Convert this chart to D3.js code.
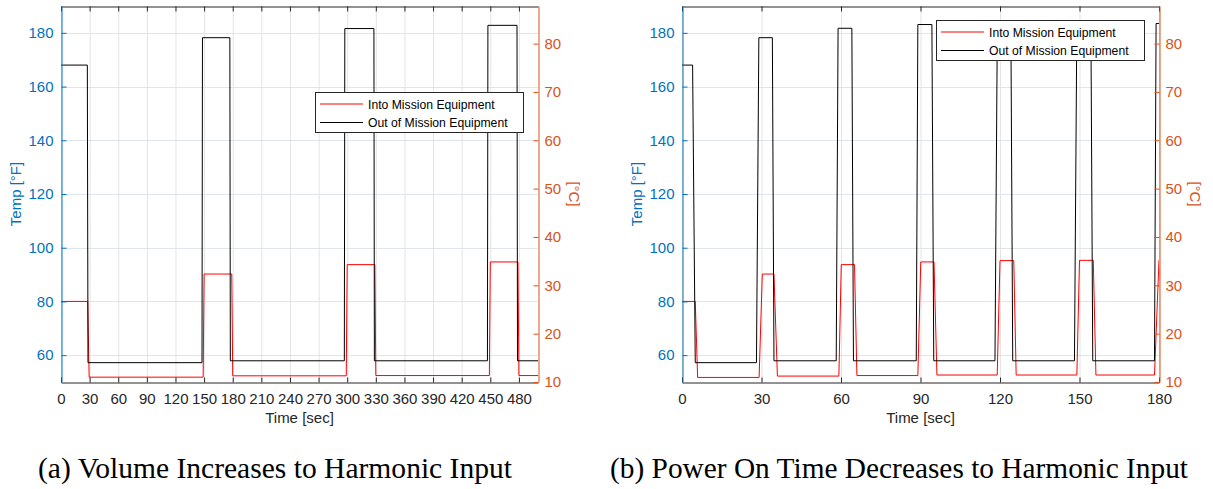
<!DOCTYPE html>
<html>
<head>
<meta charset="utf-8">
<script src="https://cdn.jsdelivr.net/npm/d3@7"></script>
<style>
  body { margin: 0; background: #fff; }
  svg { display: block; }
</style>
</head>
<body>
<svg id="root" width="1213" height="489"></svg>
<script>
// ---- data ----
// panel (a): volume increases
const aTicks = d3.range(0, 481, 30);
const aIntoT = [0, 28, 29.5, 149, 150, 179, 180, 299, 300, 329, 330, 449, 450, 479, 480, 500];
const aIntoF = [80, 80, 51.8, 51.8, 90.2, 90.2, 52.3, 52.3, 93.7, 93.7, 52.4, 52.4, 94.7, 94.7, 52.4, 52.4];
const aOutT = [0, 27.6, 28.3, 147.8, 148.3, 177, 177.5, 297, 297.5, 328, 328.5, 447, 447.5, 478, 478.5, 500];
const aOutF = [168, 168, 57.2, 57.2, 178.2, 178.2, 57.9, 57.9, 181.6, 181.6, 57.9, 57.9, 182.8, 182.8, 57.9, 57.9];

// panel (b): power on time decreases
const bTicks = d3.range(0, 181, 30);
const bIntoT = [0, 5, 5.9, 29.1, 30.3, 34.7, 36, 59.2, 60.1, 65.1, 66, 89, 90.1, 95.1, 96.2, 118.95, 120, 125.2, 126.1, 149, 150, 155.2, 156.2, 178.3, 180];
const bIntoF = [80, 80, 51.7, 51.7, 90.2, 90.2, 52.2, 52.2, 93.7, 93.7, 52.4, 52.4, 94.7, 94.7, 52.6, 52.6, 95.2, 95.2, 52.6, 52.6, 95.3, 95.3, 52.6, 52.6, 95.4];
const bOutT = [0, 4, 5, 28.1, 29, 34.1, 34.7, 58.2, 58.9, 64.1, 64.7, 88.4, 89, 94.3, 95, 118.1, 119, 124.1, 124.8, 148.1, 149, 154.3, 155, 178.3, 178.9, 180];
const bOutF = [168, 168, 57.2, 57.2, 178.2, 178.2, 57.9, 57.9, 181.7, 181.7, 57.9, 57.9, 183.1, 183.1, 57.9, 57.9, 183.3, 183.3, 57.9, 57.9, 183.5, 183.5, 57.9, 57.9, 183.5, 183.5];

const fTicks = [60, 80, 100, 120, 140, 160, 180];
const cTicks = [10, 20, 30, 40, 50, 60, 70, 80];
const seriesNames = ["Into Mission Equipment", "Out of Mission Equipment"];
const captions = ["(a) Volume Increases to Harmonic Input", "(b) Power On Time Decreases to Harmonic Input"];

const BLUE = "#0072bd", ORANGE = "#d95319", DARK = "#262626";
const SANS = "'Liberation Sans', Arial, sans-serif";
const svg = d3.select("#root");
const plotTop = 6, plotBottom = 382;

function panel(opt) {
  const x = d3.scaleLinear().domain([0, opt.xmax]).range([opt.x0, opt.x1]);
  const yF = d3.scaleLinear().domain([50, 190]).range([plotBottom, plotTop]);
  const yC = d3.scaleLinear().domain([10, (190 - 32) * 5 / 9]).range([plotBottom, plotTop]);
  const g = svg.append("g");

  // grid
  g.append("g").selectAll("line").data(opt.ticks).join("line")
    .attr("x1", d => x(d) + 0.5).attr("x2", d => x(d) + 0.5)
    .attr("y1", plotTop).attr("y2", plotBottom)
    .attr("stroke", "#e4e4e4");
  g.append("g").selectAll("line").data(fTicks).join("line")
    .attr("x1", opt.x0).attr("x2", opt.x1)
    .attr("y1", d => Math.round(yF(d)) + 0.5).attr("y2", d => Math.round(yF(d)) + 0.5)
    .attr("stroke", "#dde6ee");

  // series
  const clipId = "clip" + opt.id;
  svg.append("clipPath").attr("id", clipId).append("rect")
    .attr("x", opt.x0).attr("y", plotTop).attr("width", opt.x1 - opt.x0).attr("height", plotBottom - plotTop);
  const line = d3.line().x(d => x(d[0])).y(d => yF(d[1]));
  const into = opt.intoT.map((t, i) => [t, opt.intoF[i]]);
  const out = opt.outT.map((t, i) => [t, opt.outF[i]]);
  g.append("path").datum(into).attr("d", line).attr("clip-path", `url(#${clipId})`)
    .attr("fill", "none").attr("stroke", "#ff0000").attr("stroke-width", 1);
  g.append("path").datum(out).attr("d", line).attr("clip-path", `url(#${clipId})`)
    .attr("fill", "none").attr("stroke", "#000").attr("stroke-width", 1);

  // x axis bottom + top box
  const xb = g.append("g").attr("transform", `translate(0,${plotBottom + 0.5})`)
    .call(d3.axisBottom(x).tickValues(opt.ticks).tickSize(-5).tickSizeOuter(0).tickPadding(11));
  xb.select(".domain").attr("stroke", DARK);
  xb.selectAll(".tick line").attr("stroke", DARK);
  xb.selectAll("text").attr("fill", DARK).style("font-family", SANS).style("font-size", "15px");
  const xt = g.append("g").attr("transform", `translate(0,${plotTop + 0.5})`)
    .call(d3.axisTop(x).tickValues(opt.ticks).tickSize(-5).tickSizeOuter(0).tickFormat(""));
  xt.select(".domain").attr("stroke", DARK);
  xt.selectAll(".tick line").attr("stroke", DARK);

  // left °F axis
  const yl = g.append("g").attr("transform", `translate(${opt.x0 + 0.5},0)`)
    .call(d3.axisLeft(yF).tickValues(fTicks).tickSize(-5).tickSizeOuter(0).tickPadding(8));
  yl.select(".domain").attr("stroke", BLUE);
  yl.selectAll(".tick line").attr("stroke", BLUE);
  yl.selectAll("text").attr("fill", BLUE).style("font-family", SANS).style("font-size", "15px");

  // right °C axis
  const yr = g.append("g").attr("transform", `translate(${opt.x1 + 0.5},0)`)
    .call(d3.axisRight(yC).tickValues(cTicks).tickSize(-5).tickSizeOuter(0).tickPadding(6));
  yr.select(".domain").attr("stroke", ORANGE);
  yr.selectAll(".tick line").attr("stroke", ORANGE);
  yr.selectAll("text").attr("fill", ORANGE).style("font-family", SANS).style("font-size", "15px");

  // axis titles
  g.append("text").attr("x", (opt.x0 + opt.x1) / 2).attr("y", 423)
    .attr("text-anchor", "middle").attr("fill", DARK)
    .style("font-family", SANS).style("font-size", "15px").text("Time [sec]");
  g.append("text").attr("transform", `translate(${opt.x0 - 40},${(plotTop + plotBottom) / 2}) rotate(-90)`)
    .attr("text-anchor", "middle").attr("fill", BLUE)
    .style("font-family", SANS).style("font-size", "15px").text("Temp [°F]");
  g.append("text").attr("transform", `translate(${opt.x1 + 31},${(plotTop + plotBottom) / 2}) rotate(90)`)
    .attr("text-anchor", "middle").attr("fill", ORANGE)
    .style("font-family", SANS).style("font-size", "15px").text("[°C]");

  // legend
  const lg = g.append("g").attr("transform", `translate(${opt.lx},${opt.ly})`);
  lg.append("rect").attr("x", 0.5).attr("y", 0.5).attr("width", 208).attr("height", 40)
    .attr("fill", "#fff").attr("stroke", DARK).attr("stroke-width", 1);
  ["#ff0000", "#000"].forEach((c, i) => {
    const yy = 12 + i * 18.5;
    lg.append("line").attr("x1", 5).attr("x2", 48).attr("y1", yy).attr("y2", yy)
      .attr("stroke", c).attr("stroke-width", 1);
    lg.append("text").attr("x", 53).attr("y", yy + 4.5).attr("fill", "#000")
      .style("font-family", SANS).style("font-size", "12.2px").text(seriesNames[i]);
  });

  // caption
  svg.append("text").attr("x", opt.capX).attr("y", 478).attr("fill", "#000")
    .attr("textLength", opt.capW).attr("lengthAdjust", "spacingAndGlyphs")
    .style("font-family", "'Liberation Serif', 'Times New Roman', serif").style("font-size", "29px")
    .text(opt.caption);
}

panel({ id: "a", xmax: 500, x0: 61, x1: 538, ticks: aTicks,
  intoT: aIntoT, intoF: aIntoF, outT: aOutT, outF: aOutF,
  lx: 315, ly: 92, capX: 38, capW: 474, caption: captions[0] });
panel({ id: "b", xmax: 180, x0: 682, x1: 1159, ticks: bTicks,
  intoT: bIntoT, intoF: bIntoF, outT: bOutT, outF: bOutF,
  lx: 936, ly: 20, capX: 610, capW: 578, caption: captions[1] });
</script>
</body>
</html>
